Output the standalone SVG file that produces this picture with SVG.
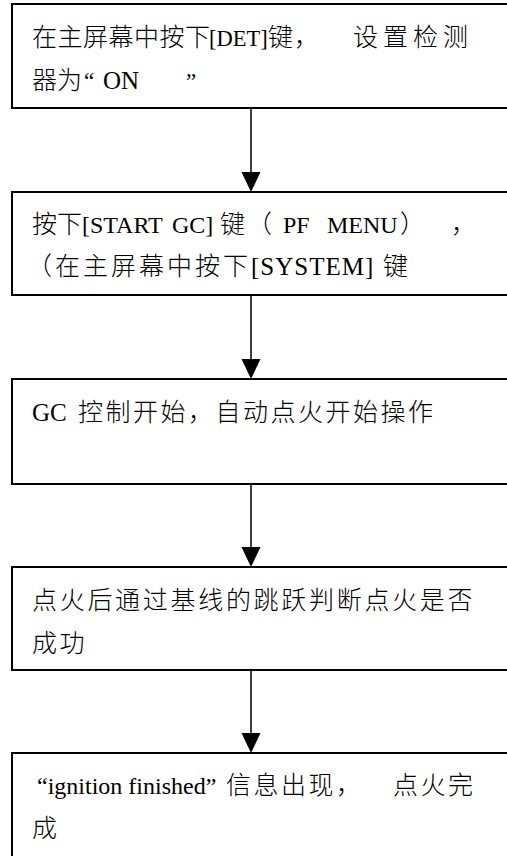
<svg xmlns="http://www.w3.org/2000/svg" width="507" height="856" viewBox="0 0 507 856">
<style>
.box{fill:#fff;stroke:#000;stroke-width:2}
.t{font-family:"Liberation Serif","Noto Sans CJK SC",serif;font-size:23px;fill:#000}
.c{font-size:25px;letter-spacing:2.5px;font-weight:300}
.l24{font-size:24px}
.line{stroke:#000;stroke-width:1.5;fill:none}
.head{fill:#000}
</style>
<rect width="507" height="856" fill="#fff"/>
<g id="connectors">
<line class="line" x1="251" y1="108" x2="251" y2="174"/>
<polygon class="head" points="251,192 241.5,172 260.5,172"/>
<line class="line" x1="251" y1="295" x2="251" y2="361"/>
<polygon class="head" points="251,379 241.5,359 260.5,359"/>
<line class="line" x1="251" y1="484" x2="251" y2="549"/>
<polygon class="head" points="251,567 241.5,547 260.5,547"/>
<line class="line" x1="251" y1="670" x2="251" y2="735"/>
<polygon class="head" points="251,753 241.5,733 260.5,733"/>
</g>
<g id="node1">
<rect class="box" x="12" y="4" width="520" height="104"/>
<text class="t" y="46"><tspan class="c" x="32" style="letter-spacing:0.5px">在主屏幕中按下</tspan><tspan x="209" style="font-size:22.5px">[DET]</tspan><tspan class="c" x="268" style="letter-spacing:1px">键，</tspan><tspan class="c" x="353" style="letter-spacing:5px">设置检测</tspan></text>
<text class="t" y="89"><tspan class="c" x="32" style="letter-spacing:0">器为</tspan><tspan x="84">“</tspan><tspan x="103" style="font-size:25px">ON</tspan><tspan x="186">”</tspan></text>
</g>
<g id="node2">
<rect class="box" x="12" y="192" width="520" height="103"/>
<text class="t" y="233"><tspan class="c" x="32" style="letter-spacing:0">按下</tspan><tspan class="l24" x="82">[START</tspan><tspan class="l24" x="172">GC]</tspan><tspan class="c" x="220" style="letter-spacing:2px">键（</tspan><tspan class="l24" x="283">PF</tspan><tspan class="l24" x="327">MENU</tspan><tspan class="c" x="400">）</tspan><tspan class="c" x="451">，</tspan></text>
<text class="t" y="275"><tspan class="c" x="27" style="letter-spacing:3px">（在主屏幕中按下</tspan><tspan x="251" style="font-size:25px;letter-spacing:1px">[SYSTEM]</tspan><tspan class="c" x="383">键</tspan></text>
</g>
<g id="node3">
<rect class="box" x="12" y="379" width="520" height="105"/>
<text class="t" y="421"><tspan x="32" style="font-size:25px">GC</tspan><tspan class="c" x="78">控制开始，自动点火开始操作</tspan></text>
</g>
<g id="node4">
<rect class="box" x="12" y="567" width="520" height="103"/>
<text class="t" y="609"><tspan class="c" x="32" style="letter-spacing:2.7px">点火后通过基线的跳跃判断点火是否</tspan></text>
<text class="t" y="652"><tspan class="c" x="32">成功</tspan></text>
</g>
<g id="node5">
<rect class="box" x="12" y="753" width="520" height="120"/>
<text class="t" y="794"><tspan class="l24" x="37">“ignition finished”</tspan><tspan class="c" x="226">信息出现，</tspan><tspan class="c" x="393">点火完</tspan></text>
<text class="t" y="837"><tspan class="c" x="32">成</tspan></text>
</g>
</svg>
